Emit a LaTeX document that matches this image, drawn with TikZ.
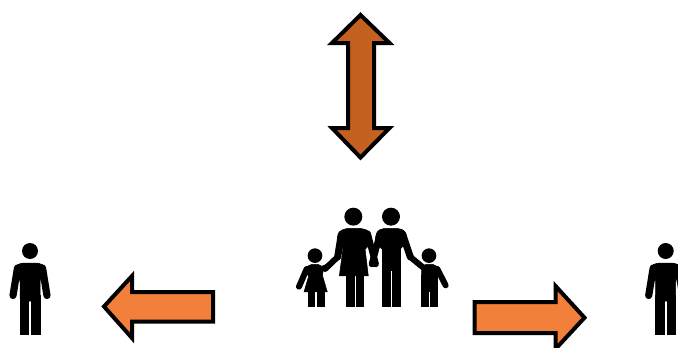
\documentclass[tikz,border=0pt]{standalone}
\definecolor{darkorange}{RGB}{196,96,32}
\definecolor{lightorange}{RGB}{242,128,58}
\begin{document}
\begin{tikzpicture}[x=1pt,y=-1pt,
  arrowshape/.style={draw=black,line width=4pt,miter limit=10,line join=miter},
  limb/.style={draw=black,line cap=round,line join=round},
  bold fill/.style={fill=black,draw=black,line width=0.5pt},
  person/.pic={
    \fill[black] (0,0) circle (8);
    \path[bold fill,rounded corners=3pt] (-9,12) -- (9,12) -- (15,15) -- (15,22) -- (10,28) -- (10,50) -- (-10,50) -- (-10,28) -- (-15,22) -- (-15,15) -- cycle;
    \path[bold fill] (-10,44) rectangle (-1.6,83);
    \path[bold fill] (1.6,44) rectangle (10,83);
    \draw[limb,line width=7.2pt] (-12.5,17) -- (-17,44.5);
    \draw[limb,line width=7.2pt] (12.5,17) -- (17,44.5);
  }]
\useasboundingbox (0,0) rectangle (678,348);
\clip (0,0) rectangle (678,348);
\fill[white] (0,0) rectangle (678,348);
% double arrow
\draw[arrowshape,fill=darkorange]
  (360.5,15) -- (389.5,43) -- (374,43) -- (374,128) -- (389.5,128) -- (360.5,157.5)
  -- (332,128) -- (348,128) -- (348,43) -- (332,43) -- cycle;
% left arrow
\draw[arrowshape,fill=lightorange]
  (104,306.5) -- (132,276) -- (132,292) -- (213,292) -- (213,321.5) -- (132,321.5) -- (132,338) -- cycle;
% right arrow
\draw[arrowshape,fill=lightorange]
  (584.5,317.7) -- (555.5,286) -- (555.5,302) -- (474.7,302) -- (474.7,333) -- (555.5,333) -- (555.5,349) -- cycle;
% single persons
\pic at (30,251) {person};
\pic at (665.7,251) {person};
% family (coordinates in a 3x frame)
\begin{scope}[shift={(280,195)},x=0.3333pt,y=-0.3333pt]
  % heads
  \fill (220,65) circle (27);
  \fill (333,65) circle (27);
  \fill (105,182) circle (22);
  \fill (447,182) circle (22);
  % woman
  \path[bold fill,rounded corners=3pt] (200,100) -- (245,100) -- (268,108) -- (276,135) -- (256,165) -- (190,165) -- (170,135) -- (178,108) -- cycle;
  \path[bold fill] (189,160) -- (255,160) -- (265,243) -- (178,243) -- cycle;
  \path[bold fill] (200,235) rectangle (222,333);
  \path[bold fill] (228,235) rectangle (249,333);
  \draw[limb,line width=7pt] (184,118) -- (173,186);
  \draw[limb,line width=6pt] (173,186) -- (135,222);
  \draw[limb,line width=6.5pt] (263,116) -- (287,207);
  % man
  \path[bold fill,rounded corners=3pt] (310,100) -- (356,100) -- (376,108) -- (382,135) -- (360,165) -- (306,165) -- (285,135) -- (291,108) -- cycle;
  \path[bold fill] (306,160) rectangle (360,225);
  \path[bold fill] (306,215) rectangle (330,333);
  \path[bold fill] (338,215) rectangle (360,333);
  \draw[limb,line width=6.5pt] (300,116) -- (276,207);
  \draw[limb,line width=7pt] (368,118) -- (391,186);
  \draw[limb,line width=6pt] (391,186) -- (430,218);
  % girl
  \path[bold fill,rounded corners=2pt] (90,208) -- (120,208) -- (130,222) -- (127,245) -- (85,245) -- (75,222) -- cycle;
  \path[bold fill] (87,240) -- (127,240) -- (142,291) -- (72,291) -- cycle;
  \path[bold fill] (85,285) rectangle (104,333);
  \path[bold fill] (112,285) rectangle (132,333);
  \draw[limb,line width=6pt] (80,222) -- (57,275);
  \draw[limb,line width=5pt] (122,222) -- (148,212);
  % boy
  \path[bold fill,rounded corners=2pt] (432,208) -- (464,208) -- (476,222) -- (472,250) -- (425,250) -- (425,222) -- cycle;
  \path[bold fill] (425,240) rectangle (472,290);
  \path[bold fill] (425,280) rectangle (446,333);
  \path[bold fill] (452,280) rectangle (472,333);
  \draw[limb,line width=6pt] (472,222) -- (497,271);
\end{scope}
\end{tikzpicture}
\end{document}
